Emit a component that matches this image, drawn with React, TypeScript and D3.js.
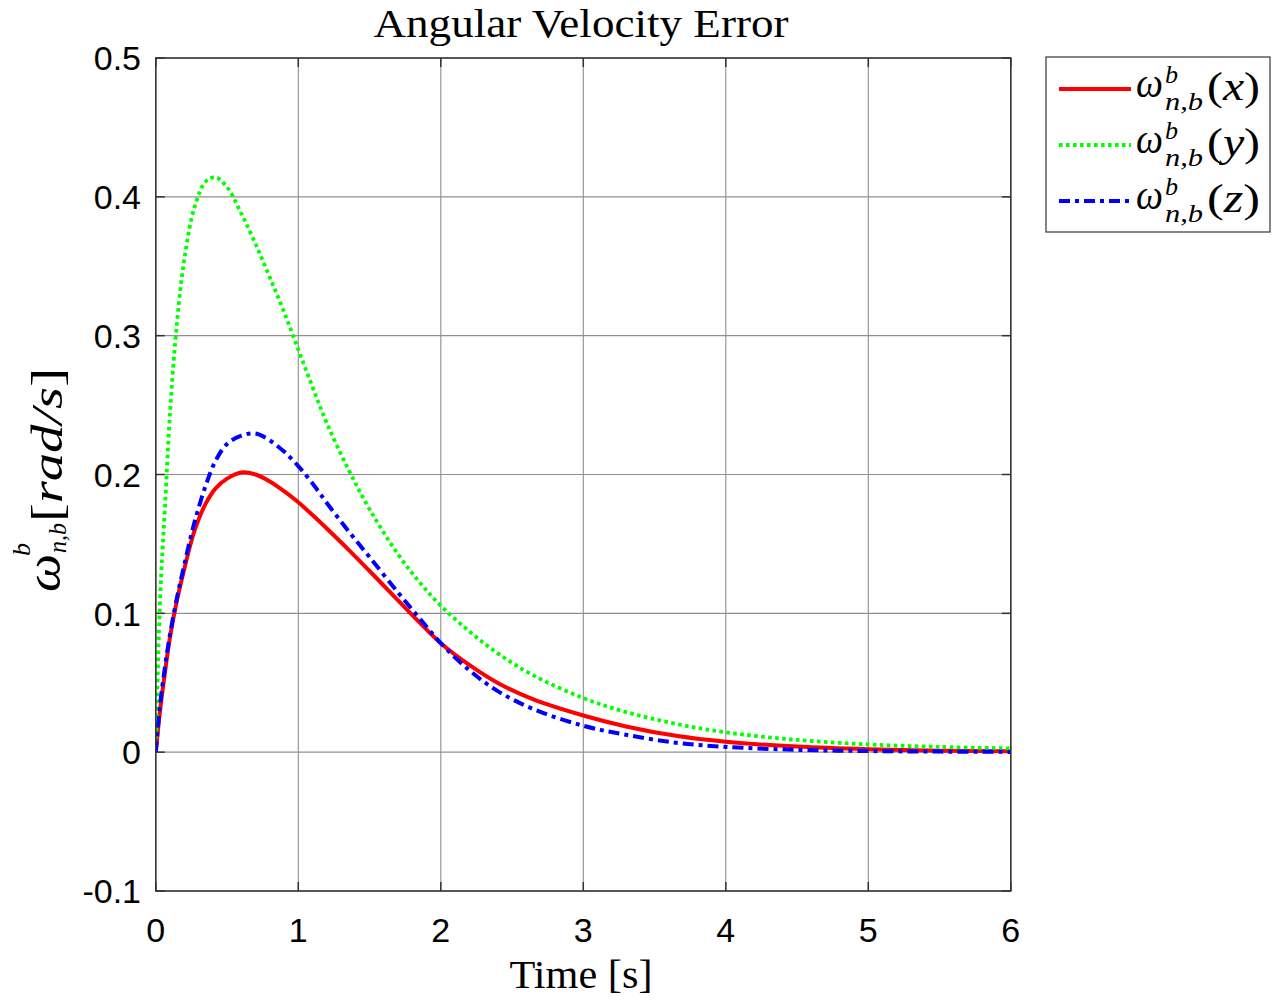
import React from "react";
import * as d3 from "d3";

const times = [0, 0.03, 0.065, 0.1, 0.15, 0.2, 0.27, 0.35, 0.42, 0.5, 0.6, 0.7, 0.8, 0.9, 1.0, 1.1, 1.2, 1.35, 1.5, 1.7, 1.85, 2.0, 2.2, 2.4, 2.65, 3.0, 3.3, 3.65, 4.0, 4.5, 5.0, 5.5, 6.0];
const omegaX = [0, 0.03, 0.058, 0.083, 0.11, 0.132, 0.159, 0.179, 0.19, 0.197, 0.2015, 0.2, 0.195, 0.188, 0.18, 0.1708, 0.1611, 0.1461, 0.1305, 0.1093, 0.0935, 0.0785, 0.0628, 0.0498, 0.038, 0.0264, 0.0185, 0.0118, 0.0075, 0.004, 0.0021, 0.0011, 0.0006];
const omegaY = [0, 0.11, 0.178, 0.245, 0.311, 0.355, 0.392, 0.411, 0.414, 0.407, 0.388, 0.366, 0.342, 0.317, 0.29, 0.263, 0.237, 0.204, 0.175, 0.1425, 0.1225, 0.1055, 0.087, 0.0712, 0.0553, 0.039, 0.0289, 0.0204, 0.0143, 0.0088, 0.0056, 0.0038, 0.0027];
const omegaZ = [0, 0.034, 0.062, 0.085, 0.112, 0.135, 0.165, 0.192, 0.21, 0.222, 0.228, 0.2295, 0.2245, 0.2165, 0.206, 0.1935, 0.1795, 0.1595, 0.1405, 0.115, 0.0965, 0.0785, 0.059, 0.044, 0.031, 0.019, 0.0125, 0.0068, 0.0038, 0.0017, 0.0008, 0.0004, 0.0002];

const xTicks = [0, 1, 2, 3, 4, 5, 6];
const yTicks = [-0.1, 0, 0.1, 0.2, 0.3, 0.4, 0.5];
const seriesLabels = ["x", "y", "z"];
const titleText = "Angular Velocity Error";
const xLabelText = "Time [s]";

const W = 1274;
const H = 1003;
const left = 155.8;
const right = 1010.8;
const top = 58;
const bottom = 891;

const serif = "'Liberation Serif', 'DejaVu Serif', serif";
const sans = "'Liberation Sans', Arial, sans-serif";

export default function App() {
  const x = d3.scaleLinear().domain([0, 6]).range([left, right]);
  const y = d3.scaleLinear().domain([-0.1, 0.5]).range([bottom, top]);

  const line = (vals: number[]) =>
    d3
      .line<number>()
      .x((_, i) => x(times[i]))
      .y((d) => y(d))
      .curve(d3.curveCatmullRom.alpha(0.5))(vals) || "";

  const series = [
    { vals: omegaX, color: "#ff0000", dash: "none", width: 4 },
    { vals: omegaY, color: "#00ff00", dash: "3.6,3.4", width: 3.8 },
    { vals: omegaZ, color: "#0000ff", dash: "11,5,4,5", width: 4 },
  ];

  const axisColor = "#333";
  const gridColor = "#8f8f8f";
  const tickLen = 9;

  const legendLeft = 1046;
  const legendTop = 57;
  const legendW = 224;
  const legendH = 175;
  const entryY = [89, 145, 201];

  return (
    <div style={{ position: "absolute", left: 0, top: 0 }}>
      <svg width={W} height={H} style={{ display: "block", background: "#fff" }}>
        <defs>
          <clipPath id="plotClip">
            <rect x={left} y={top} width={right - left} height={bottom - top} />
          </clipPath>
        </defs>
        <rect x={0} y={0} width={W} height={H} fill="#fff" />
        <rect x={left} y={top} width={right - left} height={bottom - top} fill="#fff" />

        {/* grid */}
        {xTicks.map((t) => (
          <line key={"gx" + t} x1={x(t)} x2={x(t)} y1={top} y2={bottom} stroke={gridColor} strokeWidth={1.1} />
        ))}
        {yTicks.map((t) => (
          <line key={"gy" + t} x1={left} x2={right} y1={y(t)} y2={y(t)} stroke={gridColor} strokeWidth={1.1} />
        ))}

        {/* ticks */}
        {xTicks.map((t) => (
          <g key={"tx" + t}>
            <line x1={x(t)} x2={x(t)} y1={bottom} y2={bottom - tickLen} stroke={axisColor} strokeWidth={1.5} />
            <line x1={x(t)} x2={x(t)} y1={top} y2={top + tickLen} stroke={axisColor} strokeWidth={1.5} />
          </g>
        ))}
        {yTicks.map((t) => (
          <g key={"ty" + t}>
            <line x1={left} x2={left + tickLen} y1={y(t)} y2={y(t)} stroke={axisColor} strokeWidth={1.5} />
            <line x1={right} x2={right - tickLen} y1={y(t)} y2={y(t)} stroke={axisColor} strokeWidth={1.5} />
          </g>
        ))}

        {/* series */}
        <g clipPath="url(#plotClip)">
          {series.map((s, i) => (
            <path
              key={"s" + i}
              d={line(s.vals)}
              fill="none"
              stroke={s.color}
              strokeWidth={s.width}
              strokeDasharray={s.dash}
              strokeLinejoin="round"
            />
          ))}
        </g>

        {/* axes box */}
        <rect x={left} y={top} width={right - left} height={bottom - top} fill="none" stroke={axisColor} strokeWidth={1.5} />

        {/* tick labels */}
        {xTicks.map((t) => (
          <text key={"lx" + t} x={x(t)} y={942} textAnchor="middle" fontFamily={sans} fontSize={34} fill="#000">
            {String(t)}
          </text>
        ))}
        {yTicks.map((t) => (
          <text key={"ly" + t} x={141} y={y(t)} dy="0.36em" textAnchor="end" fontFamily={sans} fontSize={34} fill="#000">
            {String(Math.round(t * 10) / 10)}
          </text>
        ))}

        {/* title */}
        <text x={581} y={37} textAnchor="middle" fontFamily={serif} fontSize={41} textLength={415} lengthAdjust="spacingAndGlyphs" fill="#000">
          {titleText}
        </text>

        {/* x label */}
        <text x={581} y={988} textAnchor="middle" fontFamily={serif} fontSize={41} textLength={143} lengthAdjust="spacingAndGlyphs" fill="#000">
          {xLabelText}
        </text>

        {/* y label */}
        <g transform="translate(62,592) rotate(-90)" fontFamily={serif} fill="#000">
          <text x={0} y={-2} fontSize={48} fontStyle="italic" textLength={38} lengthAdjust="spacingAndGlyphs">ω</text>
          <text x={36} y={-32} fontSize={26} fontStyle="italic">b</text>
          <text x={39} y={4} fontSize={26} fontStyle="italic" textLength={30} lengthAdjust="spacingAndGlyphs">n,b</text>
          <text x={70} y={0} fontSize={44} textLength={154} lengthAdjust="spacingAndGlyphs">
            <tspan>[</tspan>
            <tspan fontStyle="italic">rad/s</tspan>
            <tspan>]</tspan>
          </text>
        </g>

        {/* legend */}
        <rect x={legendLeft} y={legendTop} width={legendW} height={legendH} fill="#fff" stroke="#444" strokeWidth={1.3} />
        {series.map((s, i) => {
          const ly = entryY[i];
          return (
            <g key={"leg" + i} fontFamily={serif} fill="#000">
              <line x1={1059} x2={1131} y1={ly} y2={ly} stroke={s.color} strokeWidth={s.width} strokeDasharray={s.dash} />
              <text x={1136} y={ly + 8} fontSize={42} fontStyle="italic" textLength={27} lengthAdjust="spacingAndGlyphs">ω</text>
              <text x={1165} y={ly - 6} fontSize={26} fontStyle="italic">b</text>
              <text x={1165} y={ly + 21} fontSize={26} fontStyle="italic" textLength={38} lengthAdjust="spacingAndGlyphs">n,b</text>
              <text x={1207} y={ly + 11} fontSize={40} textLength={53} lengthAdjust="spacingAndGlyphs">
                <tspan>(</tspan>
                <tspan fontStyle="italic">{seriesLabels[i]}</tspan>
                <tspan>)</tspan>
              </text>
            </g>
          );
        })}
      </svg>
    </div>
  );
}
